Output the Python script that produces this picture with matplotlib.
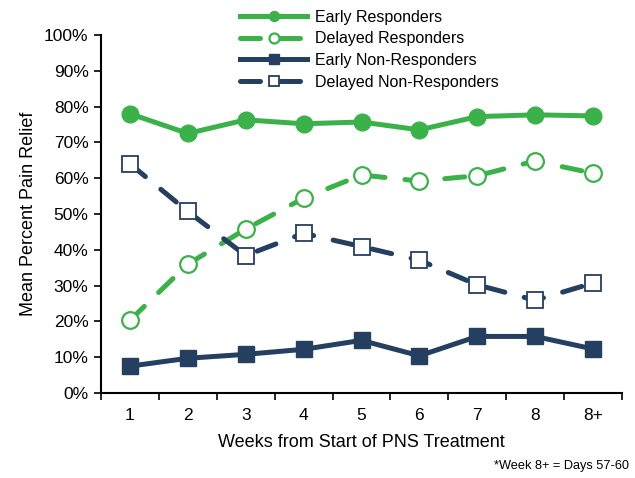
import matplotlib
matplotlib.use("Agg")
from matplotlib import pyplot as plt
from matplotlib.ticker import FixedLocator, FuncFormatter

plt.rcParams['font.family'] = ['Liberation Sans', 'DejaVu Sans']

weeks = ["1", "2", "3", "4", "5", "6", "7", "8", "8+"]
early_resp = [78.0, 72.5, 76.3, 75.2, 75.7, 73.5, 77.2, 77.7, 77.4]
delayed_resp = [20.3, 36.0, 45.8, 54.4, 60.9, 59.2, 60.7, 64.8, 61.4]
early_nonresp = [7.5, 9.7, 10.8, 12.2, 14.7, 10.4, 15.8, 15.8, 12.3]
delayed_nonresp = [64.0, 50.7, 38.4, 44.6, 40.9, 37.1, 30.2, 25.9, 30.7]

green = "#3bb14a"
navy = "#243f60"

fig = plt.figure(figsize=(6.35, 4.78), dpi=100)
ax = fig.add_axes([101/635, 1 - 393/478, 521/635, 358/478])
x = list(range(1, len(weeks) + 1))

ax.plot(x, early_resp, color=green, lw=3.6, marker="o", ms=12,
        label="Early Responders")
ax.plot(x, delayed_resp, color=green, lw=3.6, marker="o", ms=12,
        mfc="white", mew=1.6, dashes=(4, 4), dash_capstyle="round",
        label="Delayed Responders")
ax.plot(x, early_nonresp, color=navy, lw=3.6, marker="s", ms=12,
        label="Early Non-Responders")
ax.plot(x, delayed_nonresp, color=navy, lw=3.6, marker="s", ms=12,
        mfc="white", mew=1.3, dashes=(4, 4), dash_capstyle="round",
        label="Delayed Non-Responders")

ax.set_xlim(0.5, 9.5)
ax.set_ylim(0, 100)
ax.set_yticks(range(0, 101, 10))
ax.yaxis.set_major_formatter(FuncFormatter(lambda v, p: "%d%%" % v))
ax.xaxis.set_major_locator(FixedLocator([i + 0.5 for i in range(0, 10)]))
ax.xaxis.set_minor_locator(FixedLocator(x))
ax.set_xticklabels([])
ax.set_xticklabels(weeks, minor=True)
ax.tick_params(axis="x", which="major", length=5, width=1.2, direction="out")
ax.tick_params(axis="x", which="minor", length=0, pad=11, labelsize=12.5)
ax.tick_params(axis="y", length=5, width=1.2, labelsize=12.5, pad=4)
for s in ["top", "right"]:
    ax.spines[s].set_visible(False)
for s in ["left", "bottom"]:
    ax.spines[s].set_linewidth(1.5)

ax.set_ylabel("Mean Percent Pain Relief", fontsize=13, labelpad=5)
ax.set_xlabel("Weeks from Start of PNS Treatment", fontsize=13, labelpad=8)

fig.legend(loc="upper left", bbox_to_anchor=(226/635, 1.01), frameon=False,
           fontsize=11.5, handlelength=4.2, labelspacing=0.42,
           handletextpad=0.5, markerscale=0.6)

fig.text(0.99, 0.012, "*Week 8+ = Days 57-60", ha="right", va="bottom",
         fontsize=9.2)

fig.savefig("out.png", dpi=100)
